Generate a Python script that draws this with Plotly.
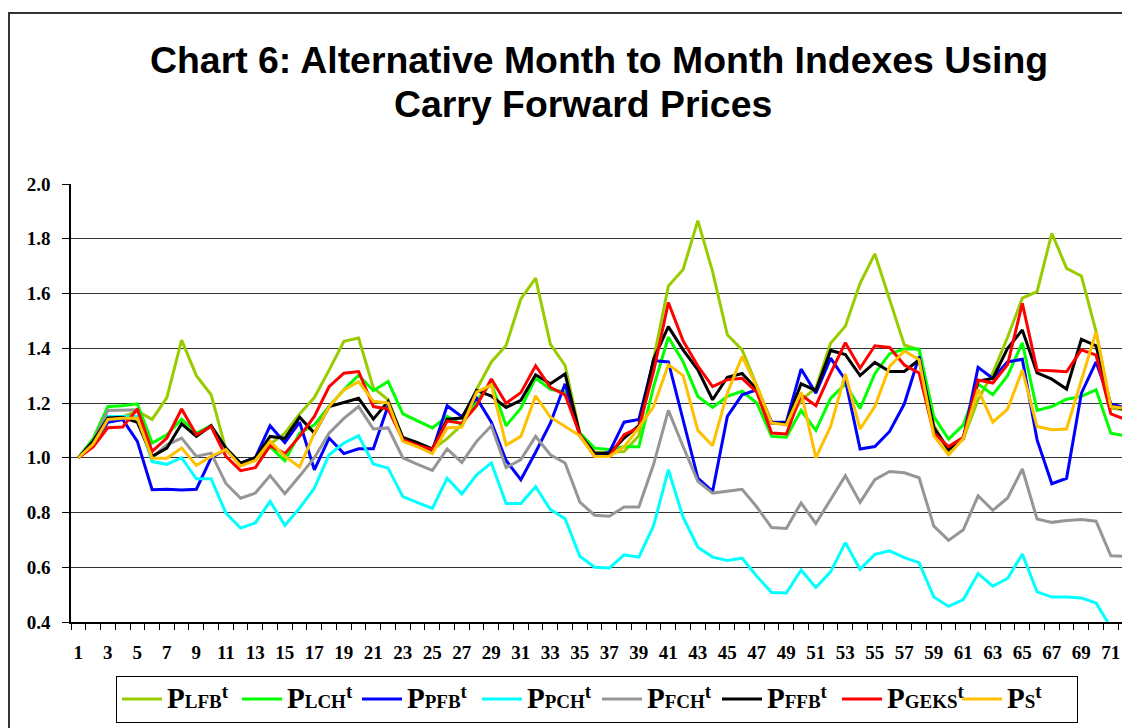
import plotly.graph_objects as go

months = list(range(1, 73))
tick_vals = list(range(1, 72, 2))
tick_text = [str(v) for v in tick_vals]

p_lfb = [1.00,1.05,1.13,1.15,1.17,1.14,1.22,1.43,1.30,1.23,
         1.03,0.98,0.99,1.05,1.09,1.16,1.22,1.32,1.425,1.437,
         1.255,1.212,1.07,1.05,1.03,1.07,1.12,1.25,1.35,1.41,
         1.58,1.656,1.415,1.337,1.09,1.02,1.02,1.023,1.08,1.36,
         1.627,1.688,1.866,1.68,1.449,1.394,1.26,1.13,1.12,1.21,
         1.255,1.418,1.48,1.637,1.745,1.577,1.412,1.394,1.12,1.02,
         1.07,1.212,1.31,1.44,1.583,1.607,1.82,1.692,1.664,1.461,
         1.181,1.175]
p_lch = [1.00,1.07,1.187,1.19,1.197,1.054,1.084,1.141,1.09,1.117,
         1.035,0.98,1.0,1.04,0.989,1.09,1.12,1.187,1.248,1.302,
         1.245,1.279,1.16,1.136,1.109,1.151,1.12,1.21,1.272,1.117,
         1.181,1.291,1.25,1.24,1.09,1.035,1.03,1.04,1.04,1.26,
         1.44,1.351,1.224,1.184,1.224,1.243,1.2,1.078,1.075,1.173,
         1.10,1.217,1.27,1.18,1.307,1.38,1.397,1.397,1.15,1.068,
         1.12,1.27,1.23,1.30,1.42,1.173,1.187,1.214,1.224,1.248,
         1.09,1.08]
p_pfb = [1.00,1.05,1.13,1.14,1.06,0.883,0.885,0.882,0.885,1.0,
         1.03,0.98,1.0,1.117,1.055,1.13,0.956,1.072,1.015,1.033,
         1.033,1.19,1.07,1.05,1.025,1.19,1.15,1.218,1.13,0.99,
         0.92,1.02,1.126,1.27,1.08,1.01,1.02,1.13,1.14,1.355,
         1.35,1.14,0.926,0.877,1.151,1.23,1.248,1.13,1.13,1.324,
         1.236,1.364,1.285,1.032,1.041,1.096,1.197,1.37,1.1,1.035,
         1.07,1.33,1.29,1.35,1.36,1.065,0.905,0.925,1.235,1.35,
         1.197,1.181]
p_pch = [1.00,1.06,1.151,1.151,1.151,0.986,0.976,1.0,0.923,0.923,
         0.798,0.743,0.762,0.841,0.753,0.816,0.889,1.011,1.054,1.08,
         0.977,0.962,0.858,0.836,0.815,0.925,0.868,0.938,0.981,0.833,
         0.833,0.894,0.811,0.777,0.64,0.6,0.597,0.645,0.637,0.752,
         0.956,0.783,0.673,0.637,0.625,0.633,0.567,0.508,0.506,0.59,
         0.526,0.583,0.69,0.593,0.647,0.66,0.635,0.617,0.491,0.457,
         0.482,0.577,0.531,0.559,0.648,0.51,0.491,0.491,0.488,0.469,
         0.381,0.381]
p_fch = [1.00,1.06,1.173,1.175,1.175,1.0,1.047,1.072,1.005,1.017,
         0.906,0.852,0.871,0.935,0.869,0.933,1.0,1.09,1.144,1.187,
         1.105,1.109,1.0,0.976,0.954,1.032,0.983,1.06,1.117,0.964,
         0.993,1.078,1.011,0.981,0.838,0.79,0.786,0.82,0.82,0.976,
         1.173,1.041,0.914,0.871,0.877,0.885,0.82,0.745,0.742,0.835,
         0.76,0.847,0.934,0.837,0.92,0.95,0.945,0.927,0.75,0.698,
         0.737,0.861,0.808,0.853,0.959,0.776,0.764,0.771,0.774,0.768,
         0.642,0.64]
p_ffb = [1.00,1.06,1.145,1.148,1.129,1.005,1.035,1.124,1.078,1.117,
         1.035,0.98,1.0,1.078,1.071,1.148,1.09,1.187,1.202,1.217,
         1.141,1.206,1.074,1.055,1.032,1.141,1.145,1.246,1.225,1.184,
         1.21,1.303,1.27,1.306,1.085,1.017,1.015,1.072,1.117,1.36,
         1.479,1.394,1.321,1.212,1.294,1.308,1.25,1.127,1.124,1.27,
         1.246,1.392,1.377,1.30,1.348,1.315,1.315,1.358,1.11,1.03,
         1.072,1.28,1.29,1.40,1.467,1.31,1.287,1.251,1.433,1.409,
         1.19,1.175]
p_geks = [1.00,1.04,1.11,1.112,1.178,1.023,1.072,1.178,1.084,1.114,
          1.005,0.953,0.964,1.044,1.015,1.078,1.151,1.26,1.309,1.315,
          1.187,1.178,1.066,1.045,1.03,1.134,1.126,1.19,1.288,1.199,
          1.238,1.336,1.257,1.23,1.085,1.005,1.005,1.084,1.11,1.315,
          1.567,1.427,1.335,1.26,1.285,1.29,1.24,1.09,1.087,1.23,
          1.19,1.309,1.42,1.327,1.409,1.403,1.339,1.31,1.09,1.041,
          1.075,1.284,1.273,1.34,1.564,1.32,1.318,1.314,1.394,1.375,
          1.16,1.14]
p_s = [1.00,1.05,1.14,1.144,1.144,0.998,0.998,1.036,0.972,1.005,
       1.03,0.97,0.99,1.06,1.005,0.966,1.09,1.187,1.248,1.278,
       1.206,1.2,1.06,1.04,1.015,1.109,1.112,1.24,1.266,1.046,
       1.078,1.226,1.148,1.114,1.08,1.005,1.005,1.04,1.11,1.187,
       1.34,1.3,1.1,1.044,1.237,1.37,1.26,1.127,1.12,1.24,
       1.0,1.114,1.306,1.105,1.187,1.333,1.39,1.358,1.08,1.01,
       1.07,1.25,1.13,1.178,1.32,1.114,1.102,1.105,1.286,1.46,
       1.187,1.18]

series_subs = ["LFB", "LCH", "PFB", "PCH", "FCH", "FFB", "GEKS", "S"]
series_values = [p_lfb, p_lch, p_pfb, p_pch, p_fch, p_ffb, p_geks, p_s]
series_colors = ["#99CC00", "#00FF00", "#0000FF", "#00FFFF",
                 "#969696", "#000000", "#FF0000", "#FFC000"]

# the page adds an 8px body margin; work in reference page pixels and subtract it
OFF = 8
W, H = 1130 - OFF, 728 - OFF
ML = 71 - OFF
MR = 0
MT = 184 - OFF
MB = 728 - 622
pw = W - ML - MR
ph = H - MT - MB


def px_x(x_page):
    return (x_page - OFF - ML) / pw


def px_y(y_page):
    return (H - MB - (y_page - OFF)) / ph


fig = go.Figure()
for sub, vals, col in zip(series_subs, series_values, series_colors):
    name = (f"<span style='font-size:29px'>P</span>"
            f"<span style='font-size:19px'>{sub}</span>"
            f"<sup><span style='font-size:19px'>t</span></sup>")
    fig.add_trace(go.Scatter(x=months, y=vals, mode="lines", name=name,
                             line=dict(color=col, width=3)))

serif = "Liberation Serif"

fig.update_layout(
    width=W, height=H,
    margin=dict(l=ML, r=MR, t=MT, b=MB),
    paper_bgcolor="white", plot_bgcolor="white",
    showlegend=True,
    legend=dict(orientation="h", xref="container", yref="container",
                x=(116 - OFF) / W, y=1 - (676 - OFF) / H,
                xanchor="left", yanchor="top",
                bordercolor="black", borderwidth=1, bgcolor="white",
                entrywidth=65, entrywidthmode="pixels",
                font=dict(family=serif, size=24, color="black", weight="bold"),
                itemwidth=40, tracegroupgap=0),
    annotations=[
        dict(text="<b>Chart 6: Alternative Month to Month Indexes Using</b>",
             xref="paper", yref="paper", x=px_x(598.5), y=px_y(60),
             xanchor="center", yanchor="middle", showarrow=False,
             font=dict(family="Liberation Sans", size=37.4, color="black")),
        dict(text="<b>Carry Forward Prices</b>",
             xref="paper", yref="paper", x=px_x(583), y=px_y(104),
             xanchor="center", yanchor="middle", showarrow=False,
             font=dict(family="Liberation Sans", size=37.4, color="black")),
    ],
    shapes=[dict(type="rect", xref="paper", yref="paper",
                 x0=px_x(9), x1=px_x(1140), y0=px_y(740), y1=px_y(13),
                 line=dict(color="#333333", width=2), layer="below")],
)

fig.update_xaxes(range=[0.5, 72.3], tickmode="array", tickvals=tick_vals,
                 ticktext=tick_text, ticks="", showgrid=False, zeroline=False,
                 showline=True, linecolor="black", linewidth=1.5,
                 tickfont=dict(family=serif, size=19, color="black", weight="bold"),
                 ticklabelstandoff=12,
                 minor=dict(ticks="outside", tick0=0.5, dtick=1, ticklen=6,
                            tickcolor="black", tickwidth=1, showgrid=False))
fig.update_yaxes(range=[0.4, 2.0], dtick=0.2, tick0=0.4, tickformat=".1f",
                 ticks="outside", ticklen=7, tickcolor="black",
                 showgrid=True, gridcolor="#333333", gridwidth=1,
                 zeroline=False, showline=True, linecolor="black", linewidth=1.5,
                 tickfont=dict(family=serif, size=19, color="black", weight="bold"),
                 ticklabelstandoff=8)

fig.write_html("out.html")
